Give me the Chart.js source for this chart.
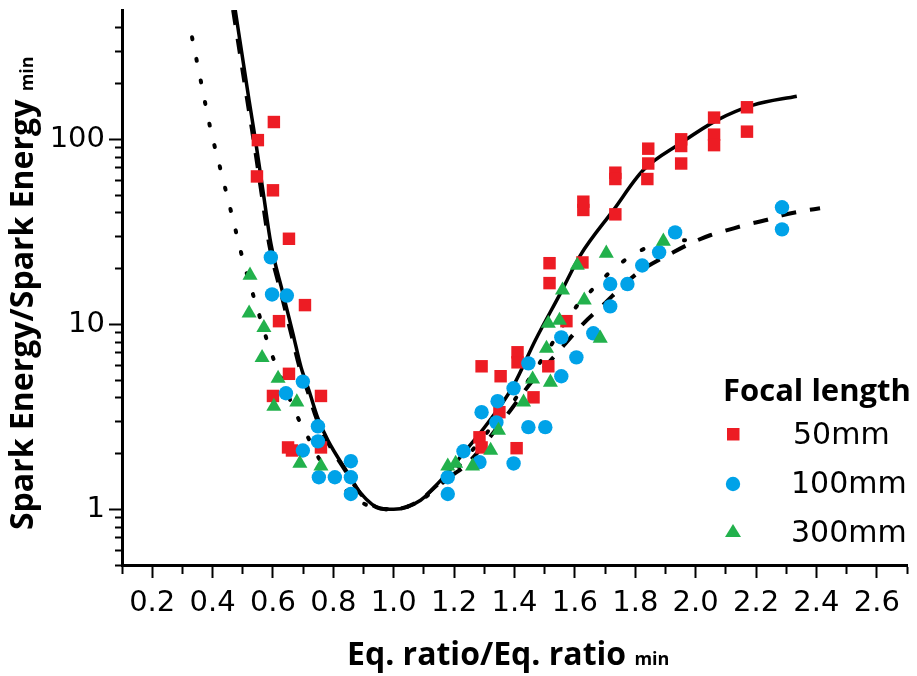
<!DOCTYPE html>
<html>
<head>
<meta charset="utf-8">
<title>Spark energy vs equivalence ratio</title>
<script src="https://cdn.jsdelivr.net/npm/chart.js@4.4.1/dist/chart.umd.min.js"></script>
<style>
  html, body { margin: 0; padding: 0; background: #fff; }
  canvas { display: block; }
</style>
</head>
<body>
<canvas id="sparkChart" width="917" height="676"></canvas>
<script>
// ---- values ----
const seriesNames = ['50mm', '100mm', '300mm'];
const legendTitle = 'Focal length';
const xTitle = 'Eq. ratio/Eq. ratio';
const yTitle = 'Spark Energy/Spark Energy';
const titleSub = 'min';

// 50mm (squares)
const x50 = [0.603, 0.550, 0.547, 0.600, 0.653, 0.706, 0.620, 0.653, 0.600, 0.759, 0.650, 0.663, 0.759,
             1.284, 1.291, 1.407, 1.350, 1.291, 1.354, 1.410, 1.410, 1.512, 1.463, 1.572, 1.516, 1.516, 1.625,
             1.628, 1.628, 1.734, 1.734, 1.734, 1.843, 1.843, 1.840, 1.952, 1.952, 1.952, 2.061, 2.061, 2.061,
             2.170, 2.170];
const y50 = [124, 99, 63, 53, 29, 12.7, 10.4, 5.4, 4.1, 4.1, 2.16, 2.08, 2.16,
             2.45, 2.16, 2.14, 3.35, 5.93, 5.24, 7.06, 6.23, 5.93, 4.03, 10.4, 21.4, 16.7, 21.6,
             46, 41.5, 66, 61, 39.3, 89, 74, 61, 100, 92, 74, 131, 106, 93,
             149, 110];

// 100mm (circles)
const x100 = [0.593, 0.597, 0.646, 0.699, 0.643, 0.749, 0.749, 0.699, 0.858, 0.752, 0.805, 0.858, 0.858,
              1.179, 1.179, 1.231, 1.284, 1.291, 1.344, 1.340, 1.397, 1.446, 1.446, 1.502, 1.397, 1.555,
              1.555, 1.605, 1.661, 1.717, 1.774, 1.717, 1.823, 1.879, 1.932, 2.286, 2.286];
const y100 = [23, 14.5, 14.3, 4.9, 4.24, 2.81, 2.33, 2.08, 1.82, 1.49, 1.49, 1.49, 1.21,
              1.21, 1.49, 2.06, 1.80, 3.35, 3.84, 2.95, 4.51, 6.15, 2.78, 2.78, 1.77, 5.24,
              8.5, 6.63, 8.94, 16.5, 16.5, 12.5, 20.8, 24.5, 31.4, 42.9, 32.6];

// 300mm (triangles)
const x300 = [0.524, 0.521, 0.570, 0.564, 0.617, 0.603, 0.679, 0.689, 0.759,
              1.179, 1.205, 1.261, 1.321, 1.347, 1.430, 1.460, 1.519, 1.506, 1.512, 1.549, 1.684,
              1.559, 1.631, 1.608, 1.704, 1.893];
const y300 = [18.4, 11.5, 9.6, 6.6, 5.1, 3.6, 3.8, 1.77, 1.71,
              1.71, 1.77, 1.71, 2.08, 2.67, 3.79, 5.05, 4.86, 7.4, 10.1, 10.5, 8.4,
              15.3, 13.5, 20.8, 24.2, 28.1];

// fitted curves
const fit50x = [0.475, 0.521, 0.542, 0.570, 0.593, 0.633, 0.666, 0.693, 0.719, 0.749, 0.782, 0.848, 0.891,
                0.957, 1.0, 1.089, 1.155, 1.231, 1.311, 1.397, 1.469, 1.552, 1.618, 1.727, 1.826, 1.949,
                2.071, 2.190, 2.335];
const fit50y = [500, 162, 99, 48.6, 27.4, 14.7, 8.94, 5.86, 4.4, 3.1, 2.36, 1.57, 1.22,
                1.01, 1.0, 1.12, 1.43, 2.01, 2.92, 4.68, 8.2, 14.7, 23.6, 41.3, 68, 95,
                127, 153, 171];

const fit100x = [0.468, 0.515, 0.536, 0.564, 0.587, 0.627, 0.660, 0.688, 0.714, 0.744, 0.778, 0.845, 0.889,
                 0.955, 1.0, 1.08, 1.155, 1.238, 1.377, 1.453, 1.529, 1.628, 1.684, 1.807, 1.926, 1.992,
                 2.048, 2.114, 2.170, 2.230, 2.286, 2.352, 2.412];
const fit100y = [500, 162, 99, 48.6, 27.4, 14.7, 8.94, 5.86, 4.4, 3.1, 2.36, 1.57, 1.22,
                 1.01, 1.0, 1.10, 1.40, 1.73, 3.27, 4.8, 6.63, 10.1, 12.3, 18.9, 24.5, 27.8,
                 30.3, 32.6, 34.6, 36.5, 38.8, 40.9, 42.4];

const fit300x = [0.332, 0.362, 0.392, 0.428, 0.465, 0.501, 0.544, 0.590, 0.617, 0.679, 0.716, 0.752, 0.825,
                 0.881, 0.95, 1.0, 1.10, 1.20, 1.30, 1.40, 1.50, 1.595, 1.661, 1.734, 1.807, 1.889, 1.965];
const fit300y = [356, 203, 116, 67, 38.4, 22.2, 12.8, 7.33, 5.64, 3.22, 2.45, 1.89, 1.35,
                 1.12, 1.01, 1.0, 1.15, 1.6, 2.5, 3.9, 6.8, 11.9, 15.6, 20.3, 24.5, 27.8, 28.5];

// axes
const xTickValues = [0.1, 0.2, 0.3, 0.4, 0.5, 0.6, 0.7, 0.8, 0.9, 1.0, 1.1, 1.2, 1.3, 1.4,
                     1.5, 1.6, 1.7, 1.8, 1.9, 2.0, 2.1, 2.2, 2.3, 2.4, 2.5, 2.6, 2.7];
const xTickLabels = ['0.2', '0.4', '0.6', '0.8', '1.0', '1.2', '1.4', '1.6', '1.8', '2.0', '2.2', '2.4', '2.6'];
const yTickValues = [0.5, 0.6, 0.7, 0.8, 0.9, 1, 2, 3, 4, 5, 6, 7, 8, 9, 10, 20, 30, 40, 50, 60, 70, 80, 90,
                     100, 200, 300, 400];
const yTickLabels = ['1', '10', '100'];

const RED = '#ED1C24';
const BLUE = '#00A2E8';
const GREEN = '#22B14C';

function toPoints(xs, ys) {
    return xs.map((x, i) => ({ x: x, y: ys[i] }));
}

function isMajorX(v) { return xTickLabels.includes(v.toFixed(1)); }
function isMajorY(v) { return yTickLabels.includes(String(v)); }

// axis titles with small "min" and the legend box
const figureText = {
    id: 'figureText',
    afterDraw(chart) {
        const ctx = chart.ctx;
        ctx.save();
        ctx.fillStyle = '#000';
        ctx.textBaseline = 'alphabetic';
        ctx.textAlign = 'left';

        // x title
        ctx.font = 'bold 32px "Open Sans"';
        ctx.fillText(xTitle, 347, 665);
        let w = ctx.measureText(xTitle + ' ').width;
        ctx.font = 'bold 18px "Open Sans"';
        ctx.fillText(titleSub, 347 + w, 665);

        // y title (rotated)
        ctx.save();
        ctx.translate(33, 530);
        ctx.rotate(-Math.PI / 2);
        ctx.font = 'bold 32px "Open Sans"';
        ctx.fillText(yTitle, 0, 0);
        w = ctx.measureText(yTitle + ' ').width;
        ctx.font = 'bold 18px "Open Sans"';
        ctx.fillText(titleSub, w, 0);
        ctx.restore();

        // legend
        ctx.font = 'bold 31px "Open Sans"';
        ctx.fillText(legendTitle, 723, 401);
        ctx.font = '30px "DejaVu Sans"';
        const rows = [
            { y: 434, base: 444, color: RED, shape: 'rect' },
            { y: 484, base: 493, color: BLUE, shape: 'circle' },
            { y: 532, base: 542, color: GREEN, shape: 'triangle' }
        ];
        rows.forEach((r, i) => {
            ctx.fillStyle = r.color;
            ctx.beginPath();
            if (r.shape === 'rect') {
                ctx.rect(727, r.y - 6, 12.5, 12.5);
            } else if (r.shape === 'circle') {
                ctx.arc(733, r.y, 7.2, 0, Math.PI * 2);
            } else {
                ctx.moveTo(733, r.y - 8);
                ctx.lineTo(741, r.y + 5);
                ctx.lineTo(725, r.y + 5);
                ctx.closePath();
            }
            ctx.fill();
            ctx.fillStyle = '#000';
            ctx.fillText(seriesNames[i], i === 0 ? 793 : 791, r.base);
        });
        ctx.restore();
    }
};

const chart = new Chart(document.getElementById('sparkChart'), {
    type: 'scatter',
    data: {
        datasets: [
            {
                label: seriesNames[0],
                data: toPoints(x50, y50),
                pointStyle: 'rect',
                pointRadius: 8.8,
                backgroundColor: RED,
                borderWidth: 0,
                order: 3
            },
            {
                label: seriesNames[1],
                data: toPoints(x100, y100),
                pointStyle: 'circle',
                pointRadius: 7.2,
                backgroundColor: BLUE,
                borderWidth: 0,
                order: 2
            },
            {
                label: seriesNames[2],
                data: toPoints(x300, y300),
                pointStyle: 'triangle',
                pointRadius: 8.7,
                backgroundColor: GREEN,
                borderWidth: 0,
                order: 1
            },
            {
                label: 'fit 50mm',
                data: toPoints(fit50x, fit50y),
                showLine: true,
                pointRadius: 0,
                borderColor: '#000',
                borderWidth: 3.5,
                cubicInterpolationMode: 'monotone',
                order: 4
            },
            {
                label: 'fit 100mm',
                data: toPoints(fit100x, fit100y),
                showLine: true,
                pointRadius: 0,
                borderColor: '#000',
                borderWidth: 4,
                borderDash: [15, 14],
                cubicInterpolationMode: 'monotone',
                order: 5
            },
            {
                label: 'fit 300mm',
                data: toPoints(fit300x, fit300y),
                showLine: true,
                pointRadius: 0,
                borderColor: '#000',
                borderWidth: 4,
                borderDash: [2, 20],
                borderCapStyle: 'round',
                cubicInterpolationMode: 'monotone',
                order: 6
            }
        ]
    },
    options: {
        responsive: false,
        animation: false,
        layout: { padding: { left: 0, right: 10, top: 10, bottom: 0 } },
        plugins: {
            legend: { display: false },
            tooltip: { enabled: false }
        },
        scales: {
            x: {
                type: 'linear',
                min: 0.1,
                max: 2.7,
                afterBuildTicks: function(scale) {
                    scale.ticks = xTickValues.map(v => ({ value: v }));
                },
                afterFit: function(scale) {
                    scale.height = 111;
                    scale.paddingLeft = 0;
                    scale.paddingRight = 0;
                },
                border: { display: true, color: '#000', width: 3 },
                grid: {
                    drawOnChartArea: false,
                    tickLength: 13,
                    tickWidth: 2,
                    tickColor: '#000',
                    tickBorderDash: function(ctx) {
                        return ctx.tick && isMajorX(ctx.tick.value) ? [] : [7, 100];
                    }
                },
                ticks: {
                    autoSkip: false,
                    maxRotation: 0,
                    minRotation: 0,
                    padding: 8,
                    color: '#000',
                    font: { family: '"DejaVu Sans"', size: 29 },
                    callback: function(value) {
                        const s = Number(value).toFixed(1);
                        return xTickLabels.includes(s) ? s : '';
                    }
                }
            },
            y: {
                type: 'logarithmic',
                min: 0.5,
                max: 500,
                afterBuildTicks: function(scale) {
                    scale.ticks = yTickValues.map(v => ({ value: v }));
                },
                afterFit: function(scale) {
                    scale.width = 122;
                    scale.paddingTop = 0;
                    scale.paddingBottom = 0;
                },
                border: { display: true, color: '#000', width: 3 },
                grid: {
                    drawOnChartArea: false,
                    tickLength: 13,
                    tickWidth: 2,
                    tickColor: '#000',
                    tickBorderDash: function(ctx) {
                        return ctx.tick && isMajorY(ctx.tick.value) ? [] : [0, 6, 7, 100];
                    }
                },
                ticks: {
                    autoSkip: false,
                    padding: 4,
                    color: '#000',
                    font: { family: '"DejaVu Sans"', size: 29 },
                    callback: function(value) {
                        const s = String(value);
                        return yTickLabels.includes(s) ? s : '';
                    }
                }
            }
        }
    },
    plugins: [figureText]
});
</script>
</body>
</html>
